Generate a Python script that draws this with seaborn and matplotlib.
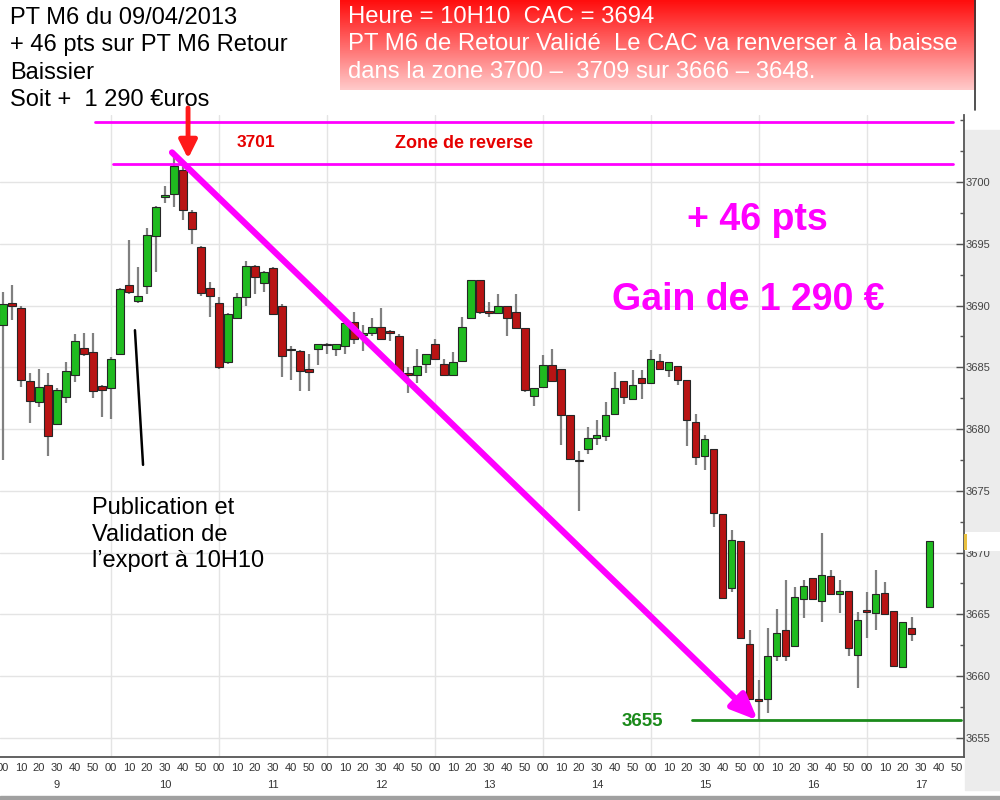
import pandas as pd
import seaborn as sns
import matplotlib.pyplot as plt
from matplotlib.colors import LinearSegmentedColormap
from matplotlib.patches import Rectangle
from matplotlib.lines import Line2D
import numpy as np

# bougies 5 minutes du CAC 40, 09/04/2013
times = ["09:00", "09:05", "09:10", "09:15", "09:20", "09:25", "09:30", "09:35", "09:40", "09:45",
         "09:50", "09:55", "10:00", "10:05", "10:10", "10:15", "10:20", "10:25", "10:30", "10:35",
         "10:40", "10:45", "10:50", "10:55", "11:00", "11:05", "11:10", "11:15", "11:20", "11:25",
         "11:30", "11:35", "11:40", "11:45", "11:50", "11:55", "12:00", "12:05", "12:10", "12:15",
         "12:20", "12:25", "12:30", "12:35", "12:40", "12:45", "12:50", "12:55", "13:00", "13:05",
         "13:10", "13:15", "13:20", "13:25", "13:30", "13:35", "13:40", "13:45", "13:50", "13:55",
         "14:00", "14:05", "14:10", "14:15", "14:20", "14:25", "14:30", "14:35", "14:40", "14:45",
         "14:50", "14:55", "15:00", "15:05", "15:10", "15:15", "15:20", "15:25", "15:30", "15:35",
         "15:40", "15:45", "15:50", "15:55", "16:00", "16:05", "16:10", "16:15", "16:20", "16:25",
         "16:30", "16:35", "16:40", "16:45", "16:50", "16:55", "17:00", "17:05", "17:10", "17:15",
         "17:20", "17:25", "17:35"]
opens = [3688.4, 3690.2, 3689.8, 3683.9, 3682.2, 3683.6, 3680.4, 3682.6, 3684.4, 3686.6,
         3686.2, 3683.5, 3683.3, 3686.1, 3691.7, 3690.4, 3691.6, 3695.6, 3698.8, 3699.0,
         3701.0, 3697.6, 3694.7, 3691.4, 3690.2, 3685.4, 3689.0, 3690.7, 3693.2, 3691.8,
         3693.0, 3690.0, 3686.5, 3686.3, 3684.9, 3686.5, 3686.9, 3686.5, 3686.7, 3688.7,
         3687.6, 3687.8, 3688.3, 3687.9, 3687.5, 3684.5, 3684.4, 3685.3, 3686.9, 3685.3,
         3684.4, 3685.5, 3689.0, 3692.1, 3689.5, 3689.4, 3690.0, 3689.5, 3688.2, 3682.7,
         3683.4, 3685.2, 3684.9, 3681.1, 3677.5, 3678.4, 3679.3, 3679.4, 3681.2, 3683.9,
         3682.4, 3684.1, 3683.7, 3685.5, 3684.8, 3685.1, 3684.0, 3680.6, 3677.8, 3678.4,
         3673.1, 3667.1, 3670.9, 3662.6, 3658.1, 3658.1, 3661.6, 3663.7, 3662.4, 3666.2,
         3667.9, 3666.1, 3668.1, 3666.6, 3666.9, 3661.7, 3665.3, 3665.1, 3666.7, 3665.3,
         3660.7, 3663.9, 3665.6]
highs = [3691.1, 3691.7, 3690.0, 3684.5, 3684.9, 3684.5, 3683.3, 3685.4, 3687.7, 3687.8,
         3687.8, 3683.6, 3685.8, 3691.4, 3695.3, 3693.1, 3696.3, 3698.1, 3699.7, 3702.2,
         3701.4, 3697.7, 3694.8, 3691.9, 3690.7, 3689.4, 3691.0, 3693.6, 3693.3, 3692.8,
         3693.1, 3690.1, 3686.7, 3686.4, 3686.1, 3686.9, 3687.0, 3686.9, 3688.6, 3689.5,
         3688.4, 3689.0, 3689.8, 3688.0, 3687.7, 3685.0, 3686.5, 3686.1, 3687.3, 3685.7,
         3686.2, 3689.1, 3692.1, 3692.1, 3690.3, 3690.9, 3690.0, 3690.9, 3688.2, 3683.3,
         3686.0, 3686.5, 3684.9, 3681.1, 3678.2, 3680.2, 3680.7, 3682.2, 3684.6, 3683.9,
         3684.8, 3684.8, 3686.4, 3686.1, 3685.4, 3685.1, 3684.0, 3681.2, 3679.5, 3678.4,
         3673.1, 3671.8, 3670.9, 3663.7, 3659.7, 3663.9, 3665.4, 3667.8, 3667.2, 3667.8,
         3667.9, 3671.6, 3668.6, 3667.8, 3666.9, 3665.2, 3666.8, 3668.6, 3667.6, 3665.3,
         3664.4, 3664.8, 3670.9]
lows = [3677.5, 3688.8, 3683.4, 3680.5, 3681.8, 3677.8, 3680.3, 3682.1, 3683.8, 3685.9,
        3682.5, 3681.0, 3680.8, 3686.0, 3690.9, 3690.2, 3690.9, 3692.7, 3698.3, 3698.0,
        3696.9, 3695.0, 3690.8, 3689.1, 3684.9, 3685.3, 3688.9, 3690.0, 3690.9, 3691.1,
        3689.2, 3684.2, 3684.0, 3683.1, 3683.1, 3685.2, 3686.1, 3685.9, 3686.1, 3686.9,
        3686.3, 3687.5, 3687.2, 3687.1, 3684.6, 3682.9, 3683.7, 3684.5, 3685.7, 3684.4,
        3684.4, 3685.5, 3689.0, 3689.3, 3689.1, 3689.4, 3687.5, 3688.2, 3683.0, 3681.9,
        3683.4, 3683.9, 3678.7, 3677.6, 3673.4, 3678.0, 3678.7, 3679.0, 3681.2, 3682.0,
        3682.4, 3682.4, 3683.7, 3684.9, 3684.2, 3683.6, 3678.6, 3677.1, 3676.7, 3672.1,
        3666.3, 3666.8, 3663.1, 3658.1, 3656.4, 3657.0, 3661.2, 3661.2, 3662.4, 3664.7,
        3666.2, 3664.4, 3666.6, 3665.1, 3661.6, 3659.0, 3663.1, 3663.7, 3665.0, 3660.8,
        3660.7, 3662.8, 3665.6]
closes = [3690.1, 3690.0, 3684.0, 3682.3, 3683.4, 3679.4, 3683.2, 3684.7, 3687.1, 3686.1,
          3683.1, 3683.2, 3685.7, 3691.3, 3691.1, 3690.8, 3695.7, 3698.0, 3698.9, 3701.3,
          3697.7, 3696.2, 3691.0, 3690.8, 3685.0, 3689.3, 3690.7, 3693.2, 3692.3, 3692.7,
          3689.3, 3685.9, 3686.4, 3684.7, 3684.6, 3686.9, 3686.8, 3686.9, 3688.6, 3687.3,
          3687.8, 3688.3, 3687.3, 3687.8, 3684.6, 3684.4, 3685.1, 3686.1, 3685.7, 3684.4,
          3685.4, 3688.3, 3692.1, 3689.5, 3689.4, 3690.0, 3689.0, 3688.2, 3683.2, 3683.3,
          3685.2, 3683.9, 3681.1, 3677.6, 3677.4, 3679.3, 3679.5, 3681.1, 3683.3, 3682.6,
          3683.6, 3683.7, 3685.7, 3684.9, 3685.4, 3684.0, 3680.7, 3677.7, 3679.2, 3673.2,
          3666.3, 3671.0, 3663.1, 3658.1, 3658.0, 3661.6, 3663.5, 3661.6, 3666.4, 3667.3,
          3666.2, 3668.2, 3666.6, 3666.9, 3662.3, 3664.5, 3665.2, 3666.6, 3665.0, 3660.8,
          3664.4, 3663.4, 3670.9]

# niveaux dessinés à la main sur le graphique
zone_haute = 3704.9
zone_basse = 3701.5
objectif = 3656.4

sns.set_theme(style="white")
plt.rcParams['font.family'] = ['Liberation Sans', 'DejaVu Sans']

df = pd.DataFrame({"time": times, "open": opens, "high": highs, "low": lows, "close": closes})
t = pd.to_datetime(df["time"], format="%H:%M")
df["minute"] = (t.dt.hour - 9) * 60 + t.dt.minute
df["up"] = df["close"] >= df["open"]
df["bottom"] = df[["open", "close"]].min(axis=1)
df["height"] = (df["open"] - df["close"]).abs().clip(lower=0.12)

W, H = 1000, 800
fig = plt.figure(figsize=(10, 8), dpi=100)

def fx(px):
    return px / W

def fy(py):
    return 1 - py / H

ax = fig.add_axes([0, fy(757), fx(964), (757 - 115) / H])

# grille
for h in range(60, 541, 60):
    ax.axvline(h, color="#e4e4e4", lw=1, zorder=0)
ax.set_yticks(range(3655, 3701, 5))
ax.set_yticks(np.arange(3655, 3705.1, 2.5), minor=True)
ax.yaxis.grid(True, which="major", color="#e4e4e4", lw=1, zorder=0)

# bougies
green, red = "#1fbb1f", "#b81414"
colors = [green if u else red for u in df["up"]]
ax.vlines(df["minute"], df["low"], df["high"], color="#808080", lw=1.6, zorder=2)
ax.bar(df["minute"], df["height"], bottom=df["bottom"], width=3.9, color=colors,
       edgecolor="#262626", linewidth=0.8, zorder=3)

# axes
sns.despine(ax=ax, left=True, top=True, right=False, bottom=False)
ax.spines["right"].set_color("#555555")
ax.spines["right"].set_linewidth(1.3)
ax.spines["bottom"].set_color("#555555")
ax.spines["bottom"].set_linewidth(1.3)
ax.yaxis.tick_right()
ax.tick_params(axis="y", which="major", direction="in", length=6, width=1, color="#555555",
               labelsize=8, labelcolor="#444444", pad=1)
ax.tick_params(axis="y", which="minor", direction="in", length=3, width=1, color="#555555")
xt = list(range(0, 531, 10))
ax.set_xticks(xt)
ax.set_xticklabels([f"{m % 60:02d}" for m in xt])
ax.set_xticks(range(5, 531, 10), minor=True)
ax.tick_params(axis="x", which="major", direction="in", length=3, width=1, color="#555555",
               labelsize=8, labelcolor="#333333", pad=4)
ax.tick_params(axis="x", which="minor", direction="in", length=2, width=1, color="#777777")
ax.set_xlim(-1.67, 533.9)
ax.set_ylim(3653.44, 3705.43)
bt = ax.get_xaxis_transform()
for h in range(9, 18):
    ax.text((h - 9) * 60 + 30, -0.044, str(h), transform=bt, ha="center", va="center",
            fontsize=8, color="#333333")

# zone de reverse
ax.plot([51, 528], [zone_haute, zone_haute], color="#ff00ff", lw=2, zorder=4, clip_on=False)
ax.plot([61, 528], [zone_basse, zone_basse], color="#ff00ff", lw=2, zorder=4)
ax.text(140.5, 3703.2, "3701", color="#e60000", fontsize=12.5, fontweight="bold",
        ha="center", va="center")
ax.text(256, 3703.1, "Zone de reverse", color="#e60000", fontsize=13, fontweight="bold",
        ha="center", va="center")
ax.annotate("", xy=(102.8, 3701.9), xytext=(102.8, 3706.0), annotation_clip=False,
            arrowprops=dict(arrowstyle="-|>,head_width=0.45,head_length=0.9", color="#ff1a1a",
                            lw=3.5, shrinkA=0, shrinkB=0), zorder=6)

# flèche de baisse
ax.annotate("", xy=(419.4, objectif), xytext=(93.9, 3702.4),
            arrowprops=dict(arrowstyle="-|>,head_width=0.55,head_length=1.3", color="#ff00ff",
                            lw=4.5, shrinkA=0, shrinkB=0), zorder=5)
ax.plot([383, 532], [objectif, objectif], color="#1a8a1a", lw=2, zorder=4)
ax.text(355, 3656.3, "3655", color="#1a8a1a", fontsize=13.5, fontweight="bold",
        ha="center", va="center")

ax.text(418.9, 3696.9, "+ 46 pts", color="#ff00ff", fontsize=27, fontweight="bold",
        ha="center", va="center")
ax.text(414, 3690.45, "Gain de 1 290 €", color="#ff00ff", fontsize=27, fontweight="bold",
        ha="center", va="center")

# publication
ax.plot([73.3, 77.8], [3688.0, 3677.1], color="black", lw=1.8, zorder=4)
for i, line in enumerate(["Publication et", "Validation de", "l’export à 10H10"]):
    ax.text(49.4, 3673.6 - i * 2.15, line, color="black", fontsize=17, ha="left", va="center")

# panneau gris à droite et bandeau du bas
fig.add_artist(Rectangle((fx(965), fy(790)), fx(35), 660 / H, transform=fig.transFigure,
                         color="#ececec", zorder=-1))
fig.add_artist(Rectangle((0, fy(800)), 1, 4 / H, transform=fig.transFigure,
                         color="#a0a0a0", zorder=-1))
fig.add_artist(Rectangle((fx(965), fy(551)), fx(35), 19 / H, transform=fig.transFigure,
                         facecolor="white", edgecolor="none", zorder=5))
fig.add_artist(Rectangle((fx(964), fy(550)), fx(3), 16 / H, transform=fig.transFigure,
                         facecolor="#e8c040", edgecolor="none", zorder=6))

# texte en haut à gauche
for i, line in enumerate(["PT M6 du 09/04/2013", "+ 46 pts sur PT M6 Retour", "Baissier",
                          "Soit +  1 290 €uros"]):
    fig.text(fx(10), fy(18 + i * 27.3), line, fontsize=17, color="black", ha="left", va="center")

# cadre rouge
cmap = LinearSegmentedColormap.from_list("rouge", ["#ff0d0d", "#ff6a6a", "#ffcaca"])
box = fig.add_axes([fx(340), fy(90), fx(635), 90 / H])
box.imshow(np.linspace(0, 1, 100).reshape(-1, 1), aspect="auto", cmap=cmap,
           extent=[0, 1, 0, 1])
box.set_axis_off()
fig.add_artist(Line2D([fx(975), fx(975)], [fy(0), fy(110)], transform=fig.transFigure,
                      color="#333333", lw=1.2))
for i, line in enumerate(["Heure = 10H10  CAC = 3694",
                          "PT M6 de Retour Validé  Le CAC va renverser à la baisse",
                          "dans la zone 3700 –  3709 sur 3666 – 3648."]):
    fig.text(fx(348), fy(17 + i * 27.5), line, fontsize=17.2, color="white", ha="left",
             va="center")

fig.savefig("out.png", dpi=100)
